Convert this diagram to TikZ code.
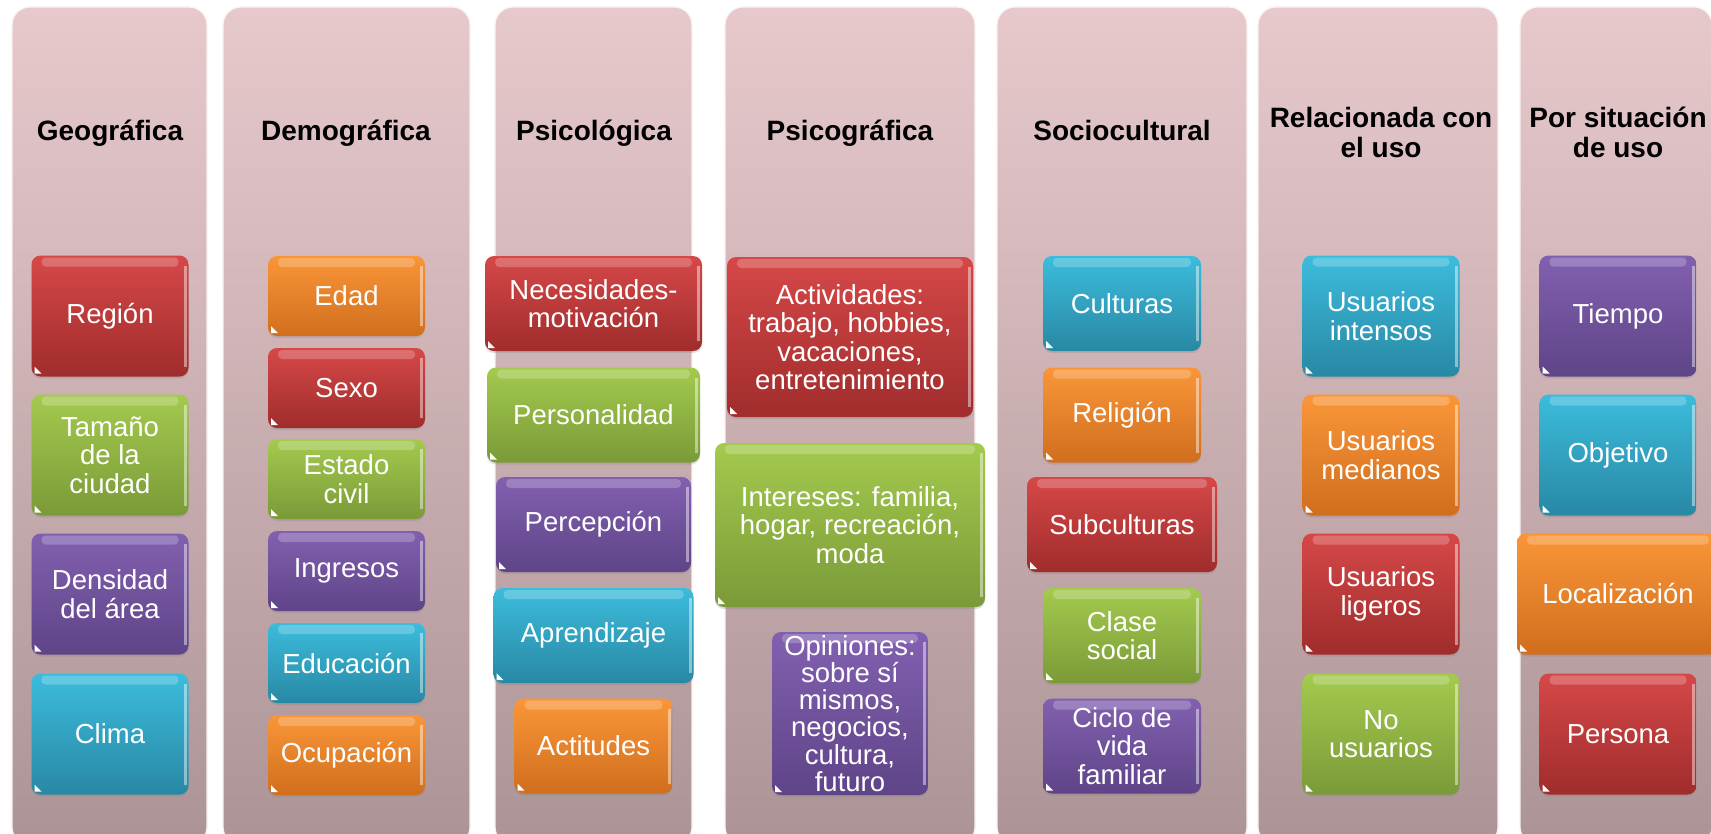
\documentclass[tikz,border=0pt]{standalone}
\usepackage{fontspec}
\setmainfont{Liberation Sans}
\usetikzlibrary{shadows}

\definecolor{colA}{RGB}{231,201,204}
\definecolor{colB}{RGB}{172,148,150}
\definecolor{rojoA}{RGB}{214,72,72}
\definecolor{rojoB}{RGB}{160,44,44}
\definecolor{naranjaA}{RGB}{250,150,56}
\definecolor{naranjaB}{RGB}{208,110,30}
\definecolor{verdeA}{RGB}{164,202,78}
\definecolor{verdeB}{RGB}{122,154,56}
\definecolor{moradoA}{RGB}{130,96,176}
\definecolor{moradoB}{RGB}{95,68,136}
\definecolor{celesteA}{RGB}{60,188,220}
\definecolor{celesteB}{RGB}{40,136,164}

\begin{document}
\begin{tikzpicture}[x=1pt,y=-1pt,
  colbox/.style={top color=colA,bottom color=colB,draw=white!75!colA,line width=1.2pt,rounded corners=18pt},
  head/.style={font=\fontsize{28}{30}\selectfont\bfseries,align=center},
  tile/.style={rounded corners=9pt,text=white,align=center,inner sep=2pt,
    font=\fontsize{27.5}{28.5}\selectfont,
    drop shadow={shadow xshift=0pt,shadow yshift=-2pt,opacity=.25},
    path picture={
      \fill[white,opacity=.22,rounded corners=4pt]
        ([xshift=10pt,yshift=-2pt]path picture bounding box.north west) rectangle
        ([xshift=-10pt,yshift=-11pt]path picture bounding box.north east);
      \fill[white,opacity=.45,sharp corners]
        ([xshift=-5pt,yshift=-10pt]path picture bounding box.north east) rectangle
        ([xshift=-2pt,yshift=10pt]path picture bounding box.south east);
      \fill[white,sharp corners]
        ([xshift=3pt,yshift=3pt]path picture bounding box.south west) -- ++(7pt,0pt) -- ++(-7pt,7pt) -- cycle;
    }},
  rojo/.style={tile,top color=rojoA,bottom color=rojoB},
  naranja/.style={tile,top color=naranjaA,bottom color=naranjaB},
  verde/.style={tile,top color=verdeA,bottom color=verdeB},
  morado/.style={tile,top color=moradoA,bottom color=moradoB},
  celeste/.style={tile,top color=celesteA,bottom color=celesteB},
  big/.style={minimum width=157,minimum height=121},
  small/.style={minimum width=157,minimum height=80},
  mid/.style={minimum width=#1,minimum height=95}
]
  \useasboundingbox (0,0) rectangle (1711,833);
  \fill[white] (0,0) rectangle (1711,833);
  \clip (0,0) rectangle (1711,833);

  % columnas
  \foreach \l/\r in {12/207,223/470,495/692,725/975,997/1247,1258/1498,1520/1712}
    \shade[colbox] (\l,7) rectangle (\r,845);

  % titulos
  \node[head,anchor=base] (geo) at (110,140) {Geográfica};
  \node[head,anchor=base] (demo) at (346,140) {Demográfica};
  \node[head,anchor=base] (psicol) at (594,140) {Psicológica};
  \node[head,anchor=base] (psicog) at (850,140) {Psicográfica};
  \node[head,anchor=base] (socio) at (1122,140) {Sociocultural};
  \node[head] (uso) at (1381,132) {Relacionada con\\el uso};
  \node[head] (sit) at (1618,132) {Por situación\\de uso};

  % geografica
  \node[rojo,big] (region) at (110,316) {Región};
  \node[verde,big] (tamano) at (110,455) {Tamaño\\de la\\ciudad};
  \node[morado,big] (densidad) at (110,594) {Densidad\\del área};
  \node[celeste,big] (clima) at (110,734) {Clima};

  % demografica
  \node[naranja,small] (edad) at (346.5,296) {Edad};
  \node[rojo,small] (sexo) at (346.5,388) {Sexo};
  \node[verde,small] (civil) at (346.5,479) {Estado\\civil};
  \node[morado,small] (ingresos) at (346.5,571) {Ingresos};
  \node[celeste,small] (educacion) at (346.5,663) {Educación};
  \node[naranja,small] (ocupacion) at (346.5,755) {Ocupación};

  % psicologica
  \node[rojo,mid=217] (necesidades) at (593.5,303.5) {Necesidades-\\motivación};
  \node[verde,mid=213] (personalidad) at (593.5,415) {Personalidad};
  \node[morado,mid=195] (percepcion) at (593.5,524.5) {Percepción};
  \node[celeste,mid=200] (aprendizaje) at (593.5,635.5) {Aprendizaje};
  \node[naranja,mid=158] (actitudes) at (593.5,746) {Actitudes};

  % psicografica
  \node[rojo,minimum width=246,minimum height=160] (actividades) at (850,337)
    {Actividades:\\trabajo, hobbies,\\vacaciones,\\entretenimiento};
  \node[verde,minimum width=270,minimum height=164] (intereses) at (850,525)
    {Intereses: familia,\\hogar, recreación,\\moda};
  \node[morado,minimum width=156,minimum height=163,inner sep=0pt,
    font=\fontsize{27.5}{27.3}\selectfont] (opiniones) at (850,713.5)
    {Opiniones:\\sobre sí\\mismos,\\negocios,\\cultura,\\futuro};

  % sociocultural
  \node[celeste,mid=158] (culturas) at (1122,303.5) {Culturas};
  \node[naranja,mid=158] (religion) at (1122,415) {Religión};
  \node[rojo,mid=190] (subculturas) at (1122,524.5) {Subculturas};
  \node[verde,mid=158] (clase) at (1122,635.5) {Clase\\social};
  \node[morado,mid=158] (ciclo) at (1122,746) {Ciclo de\\vida\\familiar};

  % uso
  \node[celeste,big] (intensos) at (1381,316) {Usuarios\\intensos};
  \node[naranja,big] (medianos) at (1381,455) {Usuarios\\medianos};
  \node[rojo,big] (ligeros) at (1381,594) {Usuarios\\ligeros};
  \node[verde,big] (nousuarios) at (1381,734) {No\\usuarios};

  % situacion
  \node[morado,big] (tiempo) at (1618,316) {Tiempo};
  \node[celeste,big] (objetivo) at (1618,455) {Objetivo};
  \node[naranja,big,minimum width=202] (localizacion) at (1618,594) {Localización};
  \node[rojo,big] (persona) at (1618,734) {Persona};
\end{tikzpicture}
\end{document}
